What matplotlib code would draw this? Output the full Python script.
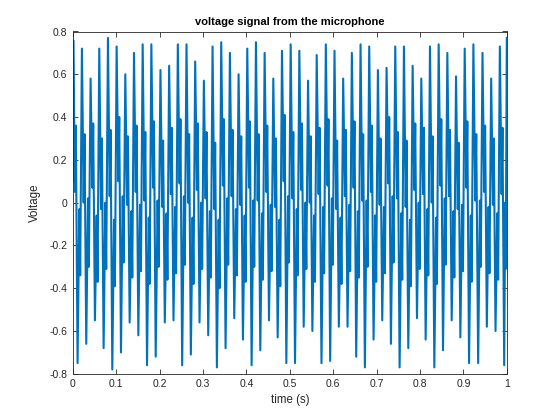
import matplotlib
matplotlib.use("Agg")
import matplotlib.pyplot as plt
import numpy as np

# ---- data (times in s, voltage in V) ----
peak_t = [0.001, 0.021, 0.041, 0.061, 0.081, 0.101, 0.121, 0.141, 0.161, 0.181,
          0.202, 0.222, 0.242, 0.262, 0.282, 0.302, 0.322, 0.342, 0.362, 0.382,
          0.402, 0.422, 0.442, 0.462, 0.482, 0.502, 0.522, 0.542, 0.562, 0.583,
          0.603, 0.623, 0.643, 0.663, 0.683, 0.703, 0.723, 0.743, 0.763, 0.783,
          0.803, 0.823, 0.843, 0.863, 0.883, 0.903, 0.923, 0.944, 0.964, 0.984]
peak_v = [0.76, 0.72, 0.58, 0.72, 0.77, 0.73, 0.60, 0.70, 0.74, 0.74,
          0.62, 0.64, 0.74, 0.74, 0.66, 0.57, 0.73, 0.75, 0.70, 0.60,
          0.72, 0.75, 0.70, 0.58, 0.71, 0.74, 0.71, 0.57, 0.69, 0.74,
          0.71, 0.58, 0.70, 0.74, 0.73, 0.62, 0.63, 0.73, 0.73, 0.64,
          0.58, 0.73, 0.74, 0.70, 0.59, 0.72, 0.74, 0.70, 0.58, 0.73]
trough_t = [0.011, 0.031, 0.051, 0.071, 0.091, 0.111, 0.131, 0.151, 0.171, 0.191,
            0.212, 0.232, 0.252, 0.272, 0.292, 0.312, 0.332, 0.352, 0.372, 0.392,
            0.412, 0.432, 0.452, 0.472, 0.492, 0.512, 0.532, 0.552, 0.573, 0.593,
            0.613, 0.633, 0.653, 0.673, 0.693, 0.713, 0.733, 0.753, 0.773, 0.793,
            0.813, 0.833, 0.853, 0.873, 0.893, 0.913, 0.934, 0.954, 0.974, 0.994]
trough_v = [-0.75, -0.66, -0.55, -0.68, -0.78, -0.70, -0.56, -0.62, -0.76, -0.72,
            -0.56, -0.55, -0.76, -0.71, -0.56, -0.62, -0.77, -0.68, -0.54, -0.64,
            -0.76, -0.69, -0.55, -0.63, -0.75, -0.75, -0.58, -0.60, -0.75, -0.74,
            -0.58, -0.58, -0.72, -0.77, -0.64, -0.55, -0.66, -0.77, -0.68, -0.54,
            -0.64, -0.77, -0.69, -0.55, -0.63, -0.75, -0.75, -0.58, -0.60, -0.76]
# secondary reversals seen on the falling and rising strokes
fall_low = [0.05, 0.00, 0.07, -0.03, 0.03, 0.10, -0.01, 0.05, 0.01, 0.07,
            -0.02, 0.04, 0.09, 0.00, 0.06, 0.02, -0.03, 0.08, 0.03, -0.01,
            0.07, 0.01, 0.05, -0.02, 0.10, 0.02, 0.06, 0.00, 0.04, 0.08,
            -0.03, 0.03, 0.07, 0.01, 0.05, -0.01, 0.09, 0.02, -0.02, 0.06,
            0.04, 0.00, 0.08, 0.03, -0.03, 0.07, 0.01, 0.05, -0.01, 0.04]
fall_high = [0.36, 0.32, 0.37, 0.30, 0.34, 0.40, 0.31, 0.36, 0.33, 0.38,
             0.29, 0.35, 0.39, 0.32, 0.37, 0.33, 0.28, 0.39, 0.34, 0.31,
             0.38, 0.32, 0.36, 0.30, 0.41, 0.33, 0.37, 0.31, 0.35, 0.39,
             0.29, 0.34, 0.38, 0.32, 0.36, 0.30, 0.40, 0.33, 0.29, 0.37,
             0.35, 0.31, 0.39, 0.34, 0.28, 0.38, 0.32, 0.36, 0.30, 0.35]
rise_high = [-0.03, 0.02, -0.06, 0.00, -0.08, 0.03, -0.04, -0.01, -0.07, 0.01,
             -0.05, -0.02, 0.03, -0.07, 0.00, -0.04, -0.08, 0.02, -0.03, -0.06,
             0.01, -0.05, -0.01, -0.08, 0.03, -0.03, 0.00, -0.06, -0.02, 0.02,
             -0.07, -0.01, -0.04, 0.01, -0.06, -0.02, 0.03, -0.05, -0.08, 0.00,
             -0.03, -0.07, 0.02, -0.04, -0.01, -0.06, 0.01, -0.02, -0.05, 0.00]
rise_low = [-0.34, -0.30, -0.37, -0.31, -0.39, -0.28, -0.35, -0.32, -0.38, -0.30,
            -0.36, -0.33, -0.29, -0.38, -0.31, -0.35, -0.40, -0.29, -0.34, -0.37,
            -0.30, -0.36, -0.32, -0.39, -0.28, -0.34, -0.31, -0.37, -0.33, -0.29,
            -0.38, -0.32, -0.35, -0.30, -0.37, -0.33, -0.28, -0.36, -0.39, -0.31,
            -0.34, -0.38, -0.29, -0.35, -0.32, -0.37, -0.30, -0.33, -0.36, -0.31]
start_point = (0.0, 0.10)
end_point = (1.0, 0.77)

xticks = [0, 0.1, 0.2, 0.3, 0.4, 0.5, 0.6, 0.7, 0.8, 0.9, 1]
xticklabels = ["0", "0.1", "0.2", "0.3", "0.4", "0.5", "0.6", "0.7", "0.8", "0.9", "1"]
yticks = [-0.8, -0.6, -0.4, -0.2, 0, 0.2, 0.4, 0.6, 0.8]
yticklabels = ["-0.8", "-0.6", "-0.4", "-0.2", "0", "0.2", "0.4", "0.6", "0.8"]

# assemble the time-ordered series: peak -> reversal -> trough -> reversal -> next peak
pt, tt = np.array(peak_t), np.array(trough_t)
nxt = np.append(pt[1:], end_point[0])
times = [[start_point[0]], pt, pt + 0.40 * (tt - pt), pt + 0.60 * (tt - pt), tt,
         tt + 0.40 * (nxt - tt), tt + 0.60 * (nxt - tt), [end_point[0]]]
vals = [[start_point[1]], peak_v, fall_low, fall_high, trough_v,
        rise_high, rise_low, [end_point[1]]]
t = np.concatenate([np.asarray(a, float) for a in times])
v = np.concatenate([np.asarray(a, float) for a in vals])
order = np.argsort(t, kind='stable')
t, v = t[order], v[order]

plt.rcParams['font.family'] = ['Liberation Sans', 'DejaVu Sans']
fig = plt.figure(figsize=(5.6, 4.2), dpi=100)
ax = fig.add_axes([0.13, 0.11, 0.775, 0.815])
ax.plot(t, v, color='#0072BD', linewidth=1.5)

ax.set_xlim(0, 1)
ax.set_ylim(-0.8, 0.8)
ax.set_xticks(xticks)
ax.set_xticklabels(xticklabels)
ax.set_yticks(yticks)
ax.set_yticklabels(yticklabels)
ax.tick_params(direction='in', length=3.5, width=0.6, top=True, right=True,
               labelsize=7.5, colors='#262626', pad=4)
for s in ax.spines.values():
    s.set_linewidth(0.6)
    s.set_color('#262626')
ax.set_title('voltage signal from the microphone', fontsize=8, fontweight='bold', pad=5)
ax.set_xlabel('time (s)', fontsize=8.3, color='#262626', labelpad=3)
ax.set_ylabel('Voltage', fontsize=8.3, color='#262626', labelpad=6)

fig.savefig('out.png', dpi=100)
